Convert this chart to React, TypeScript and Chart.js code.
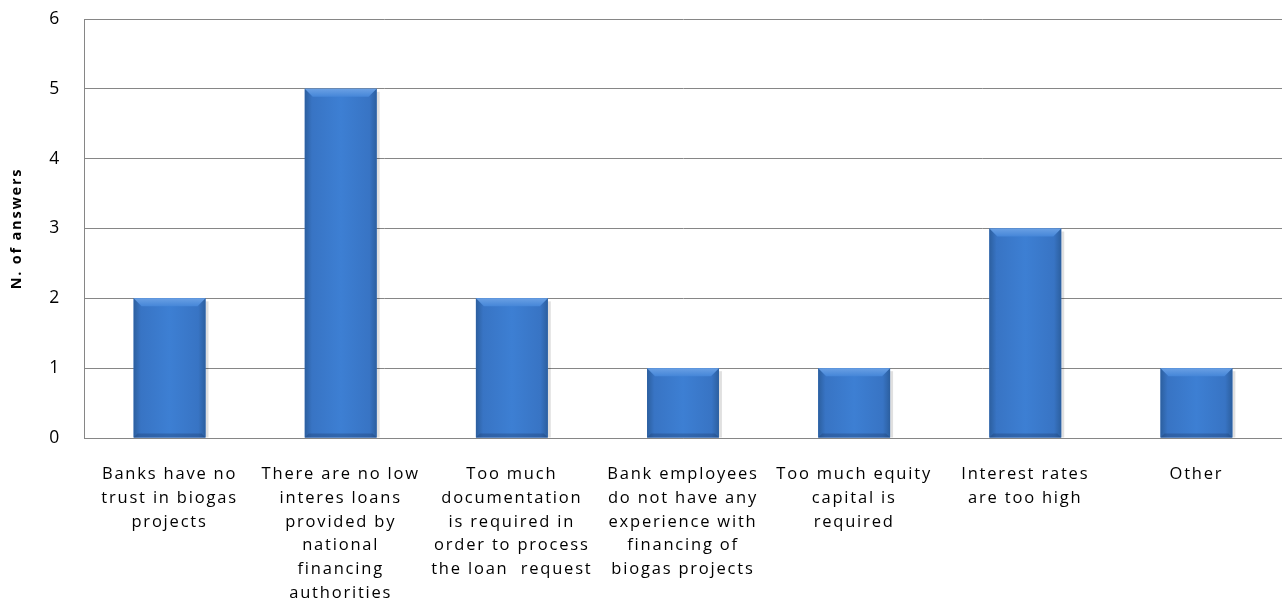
import React, { useEffect, useRef } from "react";
import { Chart, registerables } from "chart.js";

Chart.register(...registerables);

const categories: string[][] = [
  ["Banks have no", "trust in biogas", "projects"],
  ["There are no low", "interes loans", "provided by", "national", "financing", "authorities"],
  ["Too much", "documentation", "is required in", "order to process", "the loan  request"],
  ["Bank employees", "do not have any", "experience with", "financing of", "biogas projects"],
  ["Too much equity", "capital is", "required"],
  ["Interest rates", "are too high"],
  ["Other"],
];
const answers: number[] = [2, 5, 2, 1, 1, 3, 1];
const yTitle = "N. of answers";

const spacingPlugin = {
  id: "spacing",
  beforeDraw(chart: any) {
    chart.ctx.letterSpacing = "1.8px";
  },
  beforeUpdate(chart: any) {
    chart.ctx.letterSpacing = "1.8px";
  },
};

const bevelPlugin = {
  id: "bevel",
  afterDatasetsDraw(chart: any) {
    const ctx = chart.ctx;
    const meta = chart.getDatasetMeta(0);
    meta.data.forEach((bar: any) => {
      const { x, y, base, width } = bar.getProps(["x", "y", "base", "width"], true);
      const l = x - width / 2;
      const r = x + width / 2;
      const t = y;
      const b = base;
      ctx.save();
      ctx.fillStyle = "rgba(0,0,0,0.12)";
      ctx.fillRect(r, t + 3, 3, b - t - 3);
      const g = ctx.createLinearGradient(l, 0, r, 0);
      g.addColorStop(0, "#2c5f9f");
      g.addColorStop(0.1, "#3874c4");
      g.addColorStop(0.5, "#3d7fd3");
      g.addColorStop(0.9, "#3874c4");
      g.addColorStop(1, "#2c5f9f");
      ctx.fillStyle = g;
      ctx.fillRect(l, t, width, b - t);
      const bv = 8;
      const tg = ctx.createLinearGradient(0, t, 0, t + bv);
      tg.addColorStop(0, "#6aa0e4");
      tg.addColorStop(1, "#4586d8");
      ctx.fillStyle = tg;
      ctx.beginPath();
      ctx.moveTo(l, t);
      ctx.lineTo(r, t);
      ctx.lineTo(r - bv, t + bv);
      ctx.lineTo(l + bv, t + bv);
      ctx.closePath();
      ctx.fill();
      ctx.fillStyle = "rgba(30,60,110,0.35)";
      ctx.beginPath();
      ctx.moveTo(l, b);
      ctx.lineTo(r, b);
      ctx.lineTo(r - 4, b - 4);
      ctx.lineTo(l + 4, b - 4);
      ctx.closePath();
      ctx.fill();
      ctx.restore();
    });
  },
};

export default function App() {
  const ref = useRef<HTMLCanvasElement | null>(null);
  useEffect(() => {
    if (!ref.current) return;
    const chart = new Chart(ref.current, {
      type: "bar",
      data: {
        labels: categories,
        datasets: [
          {
            data: answers,
            backgroundColor: "#3a78cc",
            borderWidth: 0,
            categoryPercentage: 1,
            barPercentage: 0.42,
          },
        ],
      },
      options: {
        animation: false,
        responsive: false,
        layout: { padding: { top: 19, right: 0, left: 0, bottom: 0 } },
        plugins: { legend: { display: false }, tooltip: { enabled: false } },
        scales: {
          x: {
            offset: true,
            grid: { display: false, drawTicks: false },
            border: { display: true, color: "#868686", width: 1 },
            ticks: {
              color: "#000",
              font: { family: "Open Sans", size: 16.5, lineHeight: 1.45 },
              padding: 24,
              maxRotation: 0,
              minRotation: 0,
              autoSkip: false,
            },
            afterFit(scale: any) {
              scale.height = 164;
              scale.paddingLeft = 0;
              scale.paddingRight = 0;
            },
          },
          y: {
            min: 0,
            max: 6,
            ticks: {
              stepSize: 1,
              color: "#000",
              font: { family: "Open Sans", size: 17.5 },
              padding: 23,
            },
            grid: { color: "#868686", drawTicks: false, lineWidth: 1 },
            border: { display: true, color: "#868686", width: 1 },
            title: {
              display: true,
              text: yTitle,
              color: "#000",
              font: { family: "Open Sans", size: 14.5, weight: "bold" },
              padding: { top: 8, bottom: 0 },
            },
            afterFit(scale: any) {
              scale.width = 84;
              scale.paddingTop = 0;
              scale.paddingBottom = 0;
            },
          },
        },
      },
      plugins: [spacingPlugin, bevelPlugin],
    });
    return () => chart.destroy();
  }, []);
  return (
    <div style={{ position: "fixed", left: 0, top: 0, width: 1282, height: 602, background: "#fff" }}>
      <canvas ref={ref} width={1282} height={602} style={{ display: "block" }} />
    </div>
  );
}
